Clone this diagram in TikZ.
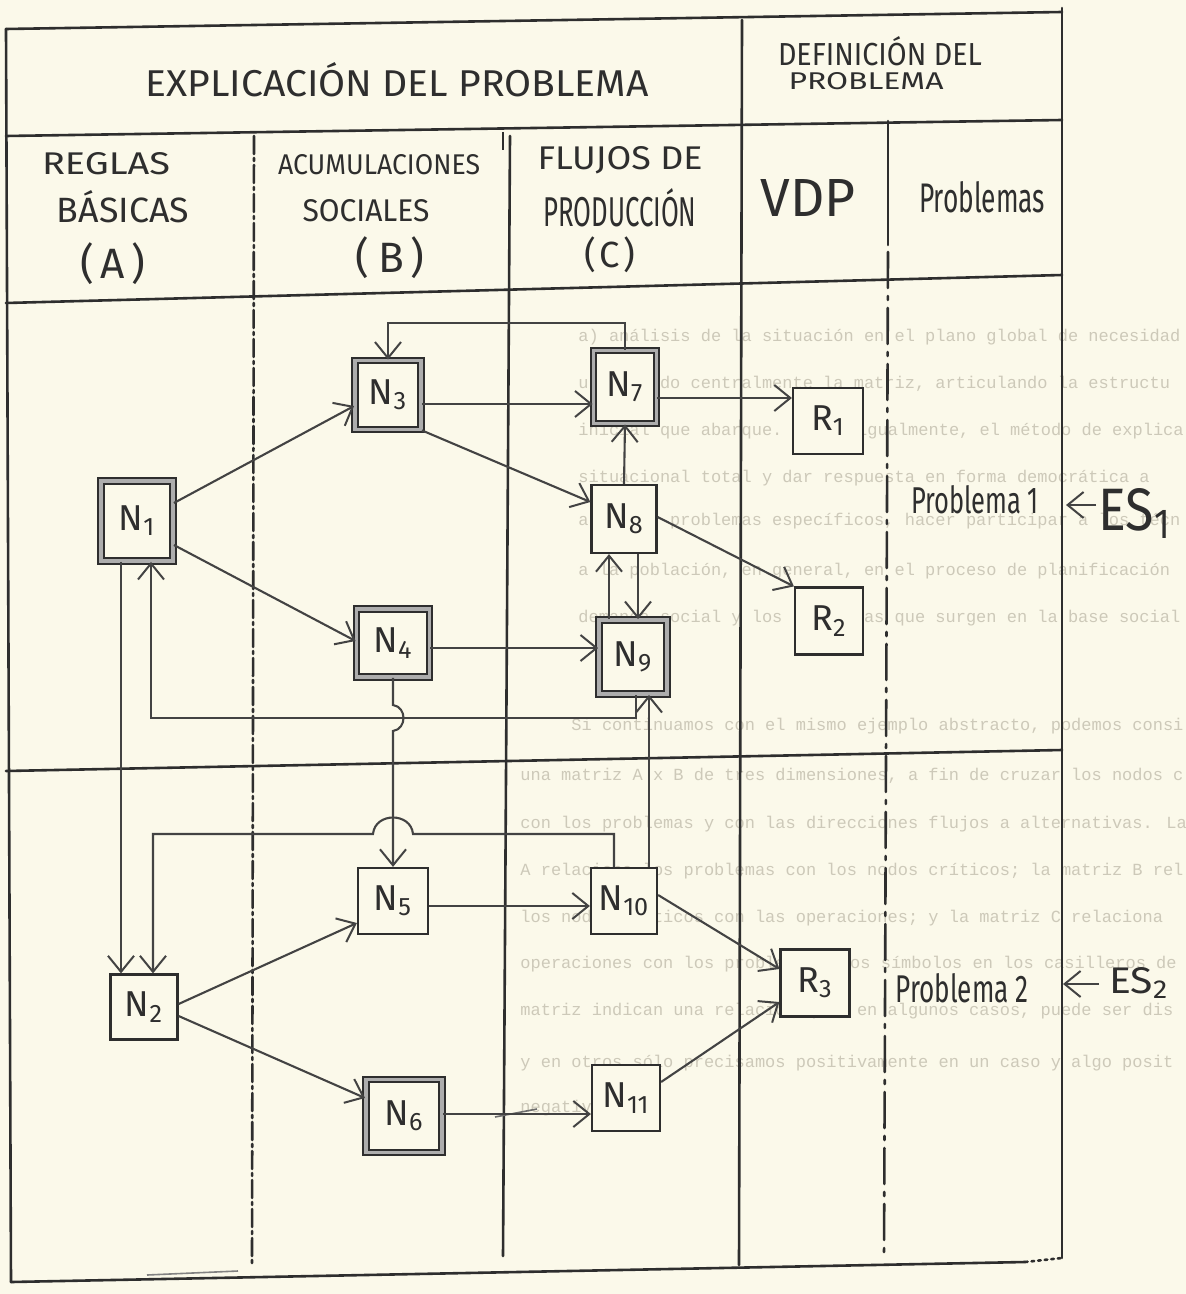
\documentclass[tikz,border=0pt]{standalone}
\usepackage{graphicx}
\usepackage{fontspec}
\setmainfont{Liberation Sans}
\newfontfamily\hand{Fira Sans}
\newfontfamily\typew{Liberation Mono}
\usetikzlibrary{arrows.meta,calc}
\definecolor{paper}{HTML}{FBF9EA}
\definecolor{ink}{HTML}{2E2E2E}
\definecolor{ghostc}{HTML}{CDC9B9}
\tikzset{
  gridl/.style={draw=ink, line width=1.3pt, line cap=round},
  conn/.style={draw=ink!90, line width=1.05pt, -{Straight Barb[length=8pt,width=13pt,line width=1pt]}},
  wh/.style 2 args={minimum width=#1*0.5pt, minimum height=#2*0.5pt},
  box/.style={draw=ink, line width=1.1pt, fill=paper, inner sep=0pt, text=ink, font=\hand\fontsize{18}{18}\selectfont},
  dbox/.style={box, line width=0.9pt, double=black!32, double distance=1.8pt},
  hw/.style={inner sep=0pt, text=ink, font=\hand},
  ghost/.style={inner sep=0pt, text=ghostc, font=\typew\fontsize{8.5}{8.5}\selectfont, anchor=base west},
}
\begin{document}
\begin{tikzpicture}[x=0.5pt,y=-0.5pt]
\fill[paper] (0,0) rectangle (1186,1294);
\useasboundingbox (0,0) rectangle (1186,1294);

% faint typewritten text showing through the paper
\node[ghost] (g1) at (578,342) {a) análisis de la situación en el plano global de necesidad};
\node[ghost] (g2) at (578,388) {utilizando centralmente la matriz, articulando la estructu};
\node[ghost] (g3) at (578,435) {inicial que abarque. Esto, igualmente, el método de explica};
\node[ghost] (g4) at (578,482) {situacional total y dar respuesta en forma democrática a};
\node[ghost] (g5) at (578,525) {analizar problemas específicos, hacer participar a los técn};
\node[ghost] (g6) at (578,575) {a la población, en general, en el proceso de planificación};
\node[ghost] (g7) at (578,622) {demanda social y los problemas que surgen en la base social};
\node[ghost] (g8) at (571,730) {Si continuamos con el mismo ejemplo abstracto, podemos consi};
\node[ghost] (g9) at (520,780) {una matriz A x B de tres dimensiones, a fin de cruzar los nodos c};
\node[ghost] (g10) at (520,828) {con los problemas y con las direcciones flujos a alternativas. La};
\node[ghost] (g11) at (520,875) {A relaciona los problemas con los nodos críticos; la matriz B rel};
\node[ghost] (g12) at (520,922) {los nodos críticos con las operaciones; y la matriz C relaciona};
\node[ghost] (g13) at (520,968) {operaciones con los problemas. Los símbolos en los casilleros de};
\node[ghost] (g14) at (520,1015) {matriz indican una relación que, en algunos casos, puede ser dis};
\node[ghost] (g15) at (520,1067) {y en otros sólo precisamos positivamente en un caso y algo posit};
\node[ghost] (g16) at (520,1112) {negativo.};

% frame and grid
\draw[gridl] (6,29) -- (1062,12);
\draw[gridl] (6,29) -- (11,1282);
\draw[gridl] (1062,8) -- (1062,1258);
\draw[gridl] (11,1282) -- (1025,1262);
\draw[gridl, dotted] (1025,1262) -- (1062,1258);
\draw[gridl] (6,136) -- (1062,120);
\draw[gridl] (6,303) -- (1062,275);
\draw[gridl] (6,771) -- (1062,750);
\draw[gridl] (742,20) -- (739,1265);
\draw[gridl] (888,121) -- (888,245);
\draw[gridl, dash pattern=on 18pt off 4pt on 2pt off 4pt] (888,252) -- (884,1258);
\draw[gridl, dash pattern=on 9pt off 2pt on 1.5pt off 2pt] (254,136) -- (252,1266);
\draw[gridl] (510,136) -- (503,1256);
\draw[ink, line width=0.8pt] (503,132) -- (503,150);
\draw[ink!60, line width=0.8pt] (147,1275) -- (238,1271);
\draw[ink!70, line width=0.8pt] (495,1117) -- (537,1109);

% header texts
\node[hw, anchor=base] (tExp) at (397,97) {\resizebox{251.5pt}{17pt}{EXPLICACIÓN DEL PROBLEMA}};
\node[hw, anchor=base] (tDef1) at (880,66) {\resizebox{102pt}{14.5pt}{DEFINICIÓN DEL}};
\node[hw, anchor=base] (tDef2) at (866,90) {\resizebox{77.5pt}{8.5pt}{PROBLEMA}};
\node[hw, anchor=base] (tA1) at (106,175) {\resizebox{64pt}{11pt}{REGLAS}};
\node[hw, anchor=base] (tA2) at (123,223) {\resizebox{66pt}{16pt}{BÁSICAS}};
\node[hw] (tA3) at (113,264) {\resizebox*{!}{21pt}{(\hspace{0.15em}A\hspace{0.15em})}};
\node[hw, anchor=base] (tB1) at (379,175) {\resizebox{101pt}{10pt}{ACUMULACIONES}};
\node[hw, anchor=base] (tB2) at (366,222) {\resizebox{63.5pt}{11pt}{SOCIALES}};
\node[hw] (tB3) at (390,258) {\resizebox*{!}{21pt}{(\hspace{0.2em}B\hspace{0.15em})}};
\node[hw, anchor=base] (tC1) at (620,170) {\resizebox{82.5pt}{11.5pt}{FLUJOS DE}};
\node[hw, anchor=base] (tC2) at (620,227) {\resizebox{76.5pt}{19pt}{PRODUCCIÓN}};
\node[hw] (tC3) at (610,255) {\resizebox*{!}{18pt}{(\hspace{0.1em}C\hspace{0.1em})}};
\node[hw, anchor=base] (tV) at (808,217) {\resizebox{47.5pt}{18.5pt}{VDP}};
\node[hw, anchor=base] (tP) at (982,213) {\resizebox{63pt}{15.5pt}{Problemas}};

% nodes
\node[dbox, wh={72}{80}] (N1) at (137,521) {N\textsubscript{1}};
\node[box, wh={67}{65}] (N2) at (144,1007) {N\textsubscript{2}};
\node[dbox, wh={66}{69}] (N3) at (388,395) {N\textsubscript{3}};
\node[dbox, wh={73}{68}] (N4) at (393,643) {N\textsubscript{4}};
\node[box, wh={70}{66}] (N5) at (393,901) {N\textsubscript{5}};
\node[dbox, wh={76}{73}] (N6) at (404,1116) {N\textsubscript{6}};
\node[dbox, wh={63}{73}] (N7) at (625,387) {N\textsubscript{7}};
\node[box, wh={65}{68}] (N8) at (624,519) {N\textsubscript{8}};
\node[dbox, wh={68}{74}] (N9) at (633,657) {N\textsubscript{9}};
\node[box, wh={66}{66}] (N10) at (624,901) {N\textsubscript{10}};
\node[box, wh={68}{66}] (N11) at (626,1098) {N\textsubscript{11}};
\node[box, wh={70}{66}] (R1) at (828,421) {R\textsubscript{1}};
\node[box, wh={68}{67}] (R2) at (829,621) {R\textsubscript{2}};
\node[box, wh={69}{67}] (R3) at (815,983) {R\textsubscript{3}};

% problem labels
\node[hw, anchor=base] (tP1) at (975,513) {\resizebox{64pt}{14pt}{Problema 1}};
\node[hw, anchor=base west] (ES1) at (1098,530) {\resizebox{37pt}{21pt}{ES\textsubscript{1}}};
\node[hw, anchor=base] (tP2) at (962,1002) {\resizebox{66.5pt}{14.5pt}{Problema 2}};
\node[hw, anchor=base west] (ES2) at (1109,993) {\resizebox{30pt}{13pt}{ES\textsubscript{2}}};
\coordinate (p1) at (1066,505);
\coordinate (p2) at (1063,984);
\draw[conn] (ES1.west |- p1) ++(-2,0) -- (p1);
\draw[conn] (ES2.west |- p2) ++(-10,0) -- (p2);

% connectors
\draw[conn] (N1.east |- 0,503) -- (N3.west |- 0,406);
\draw[conn] (N1.east |- 0,545) -- (N4.west |- 0,641);
\draw[conn] (N3.east |- 0,404) -- (N7.west |- 0,404);
\draw[conn] (N7.north) -- (N7.north |- 0,323) -| (N3.north);
\draw[conn] (N3.south east) -- (N8.west |- 0,502);
\draw[conn] (N8.north) -- (N7.south);
\draw[conn] (N7.east |- 0,398) -- (R1.west |- 0,398);
\draw[conn] (N8.east |- 0,517) -- (R2.north west);
\draw[conn] (609,0 |- N9.north) -- (609,0 |- N8.south);
\draw[conn] (638,0 |- N8.south) -- (638,0 |- N9.north);
\draw[conn] (N4.east |- 0,648) -- (N9.west |- 0,648);
\draw[conn] (636,0 |- N9.south) -- (636,718) -- (151,718) -- (151,0 |- N1.south);
\draw[conn] (649,0 |- N10.north) -- (649,0 |- N9.south);
\draw[conn] (614,0 |- N10.north) -- (614,834) -- (413,834) .. controls (411,812) and (375,812) .. (373,834) -- (153,834) -- (153,0 |- N2.north);
\draw[conn] (121,0 |- N1.south) -- (121,0 |- N2.north);
\draw[conn] (N4.south) -- (393,705) .. controls (407,707) and (407,729) .. (393,731) -- (N5.north);
\draw[conn] (N2.east |- 0,1004) -- (N5.west |- 0,923);
\draw[conn] (N2.east |- 0,1016) -- (N6.west |- 0,1098);
\draw[conn] (N5.east |- 0,906) -- (N10.west |- 0,906);
\draw[conn] (N6.east |- 0,1114) -- (N11.west |- 0,1114);
\draw[conn] (N10.east |- 0,895) -- (R3.west |- 0,969);
\draw[conn] (N11.east |- 0,1082) -- (R3.west |- 0,1002);
\end{tikzpicture}
\end{document}
